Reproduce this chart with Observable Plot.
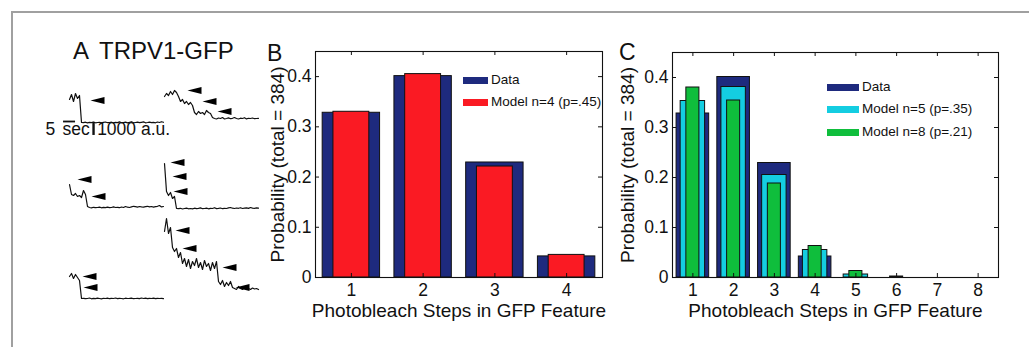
<!DOCTYPE html>
<html><head><meta charset="utf-8">
<script src="https://cdn.jsdelivr.net/npm/d3@7"></script>
<script src="https://cdn.jsdelivr.net/npm/@observablehq/plot@0.6"></script>
<style>
body{margin:0;background:#fff;font-family:"Liberation Sans",Arial,Helvetica,sans-serif;}
#fig{position:relative;width:1029px;height:347px;overflow:hidden;background:#fff;}
#fig > *{position:absolute;}
.border{left:11px;top:11px;width:1030px;height:345px;border-top:2px solid #a0a0a0;border-left:2px solid #a0a0a0;box-sizing:border-box;}
.lab{font-size:23px;line-height:23px;white-space:nowrap;color:#111;}
.title{font-size:24px;line-height:24px;white-space:nowrap;color:#111;}
.leg{font-size:13.5px;line-height:14px;white-space:nowrap;color:#111;}
</style></head><body><div id="fig"><div class="border"></div></div>
<script>
// ---------- data ----------
const steps4 = [1, 2, 3, 4];
const steps8 = [1, 2, 3, 4, 5, 6, 7, 8];
const dataProb = [0.328, 0.401, 0.229, 0.042];          // Data (total = 384)
const modelN4 = [0.330, 0.405, 0.221, 0.045];           // Model n=4 (p=.45)
const modelN5 = [0.353, 0.381, 0.205, 0.055, 0.006];    // Model n=5 (p=.35)
const modelN8 = [0.380, 0.354, 0.188, 0.063, 0.013, 0.002]; // Model n=8 (p=.21)
const yTicks = [0, 0.1, 0.2, 0.3, 0.4];
const yLabel = "Probability (total = 384)";
const xLabel = "Photobleach Steps in GFP Feature";
const legendB = ["Data", "Model n=4 (p=.45)"];
const legendC = ["Data", "Model n=5 (p=.35)", "Model n=8 (p=.21)"];

// Photobleaching traces (a.u., sampled each second)
const traceIds = ["t1", "t2", "t3", "t4", "t5", "t6"];
const traceCols = ["L", "R", "L", "R", "R", "L"];
const traceRowsIdx = [1, 1, 2, 2, 3, 3];
const traceValues = [
  [2600,3100,2400,3200,2700,3000,300,280,330,260,310,290,340,270,300,320,260,310,350,280,300,330,270,310,290,360,280,300,340,260,310,380,270,300,330,280,320,360,270,300,340,290,310,270,350,300,380,320],
  [2900,3200,3000,3400,3100,3500,3300,2900,2400,2600,2200,2400,2100,2300,2000,1300,1100,1400,1200,1300,1100,1500,1300,1200,800,700,650,750,700,800,650,700,760,680,720,800,700,650,730,700,780,660,720,700,750,680,700,720],
  [2900,1900,1800,2000,1700,1800,1600,2300,1900,700,600,560,620,580,600,640,570,610,590,630,580,600,660,600,620,580,650,600,700,630,600,660,720,680,640,700,660,630,680,720,660,700,640,680,720,800,660,700],
  [5000,2200,1800,2100,1500,1700,500,480,520,450,500,540,470,500,460,530,490,510,560,480,500,540,470,520,500,580,490,510,550,480,520,500,560,600,530,500,550,520,580,500,540,560,510,600,540,520,560,530],
  [7000,8300,6800,7400,5400,5000,5300,4400,4900,3800,4300,3500,4200,3300,4000,3600,4300,3400,3900,3200,4100,3500,3800,3100,3900,3300,4000,2000,1700,2100,1500,1900,1600,2000,1400,1300,1200,1500,1300,1200,1400,1250,1300,1200,1350,1250,1300,1200],
  [2500,2800,2300,2700,2400,2100,300,320,280,300,350,270,310,290,330,300,260,320,300,340,280,310,300,350,290,320,300,270,330,300,310,340,280,300,320,290,350,300,330,280,310,300,340,290,320,300,310,290]
];
// Arrowheads marking each bleaching step: trace, time (s), level (a.u.)
const arrowTrace = ["t1","t2","t2","t2","t3","t3","t4","t4","t4","t5","t5","t5","t5","t6","t6"];
const arrowTime  = [11, 12, 19.5, 27, 4.5, 11.5, 3.5, 4.5, 5, 6, 9.5, 29.5, 36, 7, 7.5];
const arrowLevel = [2500, 3500, 2400, 1400, 3400, 1700, 5100, 3700, 2200, 7100, 5300, 3400, 1400, 2500, 1400];
const scaleSec = 5, scaleAU = 1000;

// ---------- styling ----------
const navy = "#1e2a7e", red = "#fa1a23", cyan = "#14cde1", green = "#0fbe3c", edge = "#111";
const font = "'Liberation Sans', Arial, Helvetica, sans-serif";
const fig = document.getElementById("fig");
function place(el, left, top) { el.style.left = left + "px"; el.style.top = top + "px"; fig.appendChild(el); }
const baseStyle = {fontFamily: font, background: "transparent", overflow: "visible", color: "#111"};

// ---------- panel A ----------
const traceRows = traceIds.flatMap((id, j) => traceValues[j].map((v, i) => ({id, col: traceCols[j], row: traceRowsIdx[j], t: i + 0.5, v})));
const arrows = arrowTrace.map((id, i) => {
  const j = traceIds.indexOf(id);
  return {col: traceCols[j], row: traceRowsIdx[j], t: arrowTime[i], v: arrowLevel[i]};
});
const arrowHead = {draw(ctx) { ctx.moveTo(0, 0); ctx.lineTo(14, -3.4); ctx.lineTo(14, 3.4); ctx.closePath(); }};

const plotA = Plot.plot({
  width: 270, height: 347, marginLeft: 68, marginRight: 12, marginTop: 37, marginBottom: 46,
  style: baseStyle,
  fx: {domain: ["L", "R"], padding: 0, axis: null},
  fy: {domain: [1, 2, 3], padding: 0, axis: null},
  x: {domain: [0, 47.5], axis: null},
  y: {domain: [0, 8800], axis: null},
  marks: [
    Plot.line(traceRows, {x: "t", y: "v", z: "id", fx: "col", fy: "row", stroke: "#111", strokeWidth: 1.2}),
    Plot.dot(arrows, {x: "t", y: "v", fx: "col", fy: "row", symbol: arrowHead, fill: "#000", stroke: "none", r: 3})
  ]
});
place(plotA, 0, 0);

// scale bar: 5 sec and 1000 a.u.
const plotScale = Plot.plot({
  width: 150, height: 30, marginLeft: 0, marginRight: 0, marginTop: 0, marginBottom: 0,
  style: {...baseStyle, fontSize: "17.5px"},
  x: {domain: [0, 62.5], axis: null},
  y: {domain: [0, 2300], axis: null},
  marks: [
    Plot.ruleY([1610], {x1: 9.6, x2: 9.6 + scaleSec, stroke: "#111", strokeWidth: 1.8}),
    Plot.ruleX([22.1], {y1: 540, y2: 540 + scaleAU, stroke: "#111", strokeWidth: 2.4}),
    Plot.text([`${scaleSec}`], {x: 2.1, y: 610, textAnchor: "start", lineAnchor: "bottom", fontSize: 17.5}),
    Plot.text(["sec"], {x: 9.2, y: 610, textAnchor: "start", lineAnchor: "bottom", fontSize: 17.5}),
    Plot.text([`${scaleAU} a.u.`], {x: 23.6, y: 610, textAnchor: "start", lineAnchor: "bottom", fontSize: 17.5})
  ]
});
place(plotScale, 40, 112);

// ---------- helpers for B, C ----------
const fmt = d => d === 0 ? "0" : d3.format(".1f")(d);
function barPanel({steps, series, left, width, mLeft, mRight, mTop, labelDx}) {
  const mBottom = 70, height = 347;
  const W = width - mLeft - mRight, H = height - mTop - mBottom;
  const marks = series.map(s => Plot.rect(s.values.map((p, i) => ({k: steps[i], p})), {
    x1: d => d.k - s.half, x2: d => d.k + s.half, y1: 0, y2: "p",
    fill: s.color, stroke: edge, strokeWidth: 1
  }));
  const p = Plot.plot({
    width, height, marginLeft: mLeft, marginRight: mRight, marginTop: mTop, marginBottom: mBottom,
    style: {...baseStyle, fontSize: "17.5px"},
    x: {domain: [0.5, steps.length + 0.5], label: null},
    y: {domain: [0, 0.45], label: null},
    marks: [
      ...marks,
      Plot.frame({stroke: edge, strokeWidth: 1.1}),
      Plot.tickY(yTicks, {y: d => d, insetRight: W - 4, stroke: edge}),
      Plot.tickY(yTicks, {y: d => d, insetLeft: W - 4, stroke: edge}),
      Plot.tickX(steps, {x: d => d, insetBottom: H - 4, stroke: edge}),
      Plot.tickX(steps, {x: d => d, insetTop: H - 4, stroke: edge}),
      Plot.axisY(yTicks, {tickSize: 0, tickPadding: 4, tickFormat: fmt, fontSize: 17.5, label: null}),
      Plot.axisX(steps, {tickSize: 0, tickPadding: 6, tickFormat: d => `${d}`, fontSize: 17.5, label: null}),
      Plot.text([yLabel], {frameAnchor: "left", dx: labelDx, rotate: -90, textAnchor: "middle", lineAnchor: "middle", fontSize: 19}),
      Plot.text([xLabel], {frameAnchor: "bottom", dy: 33, textAnchor: "middle", lineAnchor: "middle", fontSize: 19})
    ]
  });
  place(p, left, 0);
}

barPanel({
  steps: steps4, left: 230, width: 380, mLeft: 85, mRight: 8, mTop: 51, labelDx: -38,
  series: [{values: dataProb, color: navy, half: 0.4}, {values: modelN4, color: red, half: 0.25}]
});
barPanel({
  steps: steps8, left: 590, width: 439, mLeft: 82, mRight: 31, mTop: 52, labelDx: -45,
  series: [{values: dataProb, color: navy, half: 0.4}, {values: modelN5, color: cyan, half: 0.3}, {values: modelN8, color: green, half: 0.16}]
});

// ---------- labels & legends ----------
function textDiv(cls, txt, left, top) { const d = document.createElement("div"); d.className = cls; d.textContent = txt; place(d, left, top); return d; }
textDiv("title", "A", 73, 39);
textDiv("title", "TRPV1-GFP", 99, 39);
textDiv("lab", "B", 267, 42);
textDiv("lab", "C", 619, 41);

function legend(items, colors, swLeft, swW, centers) {
  items.forEach((name, i) => {
    const sw = document.createElement("div");
    sw.style.width = swW + "px"; sw.style.height = "7px"; sw.style.background = colors[i];
    place(sw, swLeft, centers[i] - 3.5);
    textDiv("leg", name, swLeft + swW + 3, centers[i] - 7.5);
  });
}
legend(legendB, [navy, red], 463, 25, [80, 102]);
legend(legendC, [navy, cyan, green], 827, 32, [87, 109, 132]);
</script></body></html>
